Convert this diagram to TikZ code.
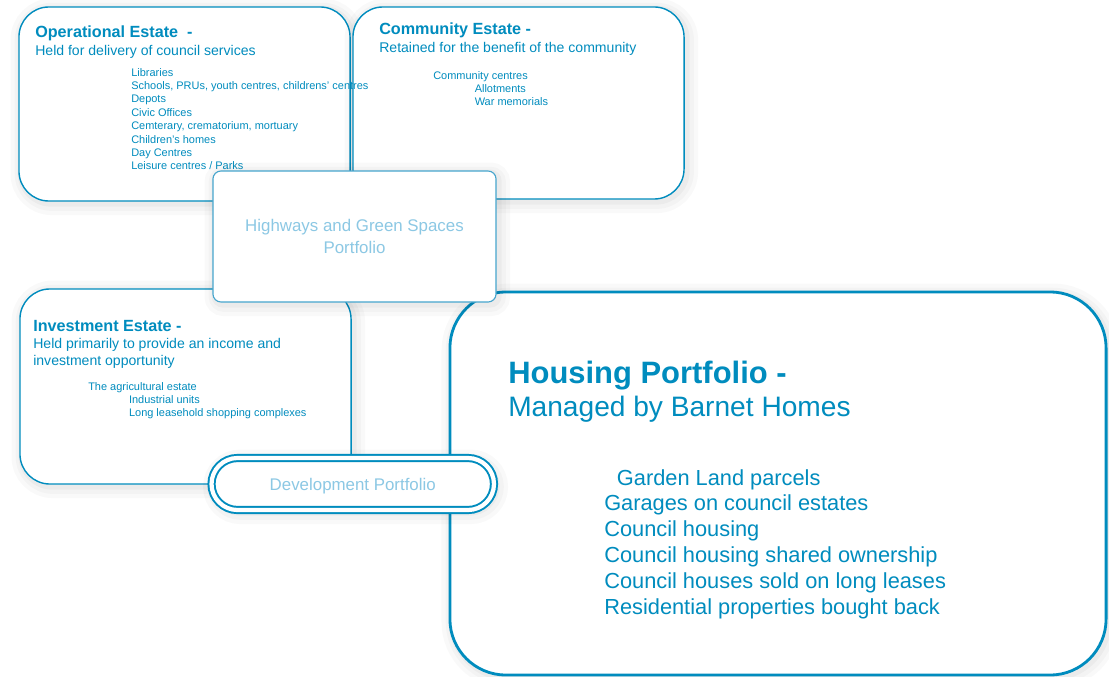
\documentclass[tikz,border=0pt]{standalone}
\usepackage{fontspec}
\setmainfont{Liberation Sans}
\definecolor{estateblue}{RGB}{0,140,190}
\definecolor{paleblue}{RGB}{70,165,205}
\definecolor{faintblue}{RGB}{140,200,228}

\begin{document}
\begin{tikzpicture}[x=0.025cm, y=-0.025cm,
  % layered strokes behind the white fill give a soft grey halo
  softshadow/.style={
    preaction={draw=black, draw opacity=0.025, line width=16pt,
               transform canvas={shift={(2pt,-2pt)}}},
    preaction={draw=black, draw opacity=0.025, line width=10pt,
               transform canvas={shift={(2pt,-2pt)}}},
    preaction={draw=black, draw opacity=0.03, line width=5pt,
               transform canvas={shift={(1.5pt,-1.5pt)}}}},
  estate/.style={rectangle, rounded corners=0.75cm, draw=estateblue,
                 line width=1pt, fill=white, inner sep=0pt, softshadow},
  housingbox/.style={estate, rounded corners=1.4cm, line width=2pt},
  portfolio/.style={rectangle, rounded corners=0.2cm, draw=paleblue,
                    line width=0.8pt, fill=white, text=faintblue, align=center,
                    font=\fontsize{12}{16}\selectfont, softshadow},
  devbox/.style={portfolio, rounded corners=0.65cm, draw=estateblue,
                 line width=1.4pt, double=white, double distance=3pt},
  heading/.style={anchor=base west, inner sep=0pt, text=estateblue,
                  font=\fontsize{11.5}{13}\selectfont\bfseries},
  subline/.style={anchor=north west, inner sep=0pt, text=estateblue, align=left,
                  font=\fontsize{10}{12}\selectfont},
  items/.style={anchor=north west, inner sep=0pt, text=estateblue, align=left,
                font=\fontsize{7.8}{9.5}\selectfont}
]
\useasboundingbox (0,0) rectangle (1109,676);

% estate boxes
\node[estate, minimum width=8.275cm, minimum height=4.85cm] (operational) at (184.5,104) {};
\node[estate, minimum width=8.275cm, minimum height=4.8cm] (community) at (518.5,103) {};
\node[estate, minimum width=8.275cm, minimum height=4.875cm] (investment) at (185.5,386.5) {};
\node[housingbox, minimum width=16.4cm, minimum height=9.575cm] (housing) at (778,483.5) {};

% operational estate
\node[heading] (opTitle) at (35,38) {Operational Estate\ \ -};
\node[subline] (opSub) at (35,45) {Held for delivery of council services};
\node[items] (opList) at (131,68) {Libraries\\Schools, PRUs, youth centres, childrens' centres\\Depots\\Civic Offices\\Cemterary, crematorium, mortuary\\Children's homes\\Day Centres\\Leisure centres / Parks};

% community estate
\node[heading] (comTitle) at (379,35) {Community Estate -};
\node[subline] (comSub) at (379,42) {Retained for the benefit of the community};
\node[items] (comList) at (433,71) {Community centres\\\hspace*{29.5pt}Allotments\\\hspace*{29.5pt}War memorials};

% investment estate
\node[heading] (invTitle) at (33,331) {Investment Estate -};
\node[subline] (invSub) at (33,338) {Held primarily to provide an income and\\investment opportunity};
\node[items] (invList) at (88,382) {The agricultural estate\\\hspace*{29pt}Industrial units\\\hspace*{29pt}Long leasehold shopping complexes};

% housing portfolio
\node[heading, font=\fontsize{22}{26}\selectfont\bfseries] (houTitle) at (508,383) {Housing Portfolio -};
\node[subline, anchor=base west, font=\fontsize{20}{24}\selectfont] (houSub) at (508,416) {Managed by Barnet Homes};
\node[items, font=\fontsize{15.5}{18.4}\selectfont] (houList) at (604,469) {\hspace*{9pt}Garden Land parcels\\Garages on council estates\\Council housing\\Council housing shared ownership\\Council houses sold on long leases\\Residential properties bought back};

% portfolios sitting on top
\node[portfolio, minimum width=7.075cm, minimum height=3.275cm] (highways) at (354.5,236.5) {Highways and Green Spaces\\Portfolio};
\node[devbox, minimum width=7.06cm, minimum height=1.3cm, text height=12pt, text depth=2.5pt] (development) at (352.75,484) {Development Portfolio};

\end{tikzpicture}
\end{document}
